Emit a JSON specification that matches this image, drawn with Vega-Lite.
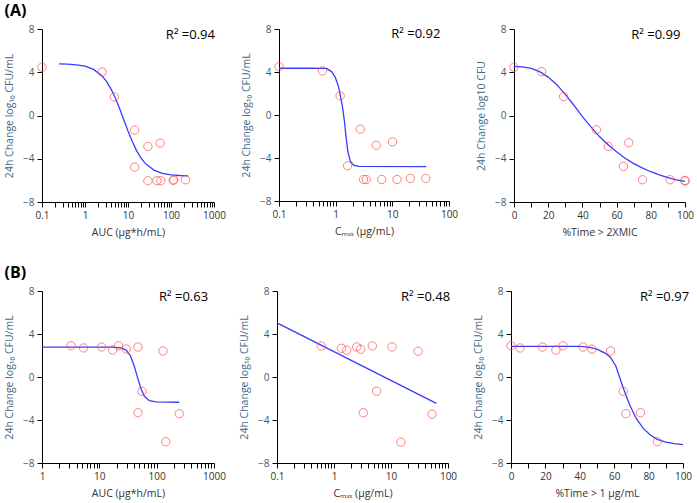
{
  "$schema": "https://vega.github.io/schema/vega-lite/v6.json",
  "padding": {"left": 4, "top": 3, "right": 0, "bottom": 5},
  "config": {
    "font": "Open Sans",
    "view": {"stroke": null},
    "axis": {"grid": false, "domainColor": "#000", "tickColor": "#000", "tickSize": 5, "labelPadding": 3, "labelFontSize": 10, "titleFontSize": 10.5, "titleFontWeight": "normal", "labelOverlap": false, "labelFlush": false, "labelBound": false},
    "axisY": {"titleColor": "#3f6a8a", "labelColor": "#3f5a70", "titlePadding": 8},
    "axisX": {"titleColor": "#333", "labelColor": "#333", "titlePadding": 7},
    "point": {"shape": "circle", "filled": false, "stroke": "#ff4a4a", "size": 70, "strokeWidth": 1},
    "line": {"stroke": "#3a3aff", "strokeWidth": 1.3},
    "text": {"fontSize": 13, "align": "left", "baseline": "middle", "color": "#000"}
  },
  "datasets": {
    "A1pts": [{"x":0.1,"y":4.46},{"x":2.5,"y":4.03},{"x":4.8,"y":1.72},{"x":14.3,"y":-1.35},{"x":14.3,"y":-4.77},{"x":29,"y":-2.86},{"x":29,"y":-6.03},{"x":47,"y":-6.03},{"x":56,"y":-2.55},{"x":58,"y":-6.03},{"x":112,"y":-6.0},{"x":117,"y":-5.94},{"x":217,"y":-5.94}],
    "A1fit": [{"x":0.25,"y":4.78},{"x":0.4,"y":4.75},{"x":0.63,"y":4.69},{"x":1,"y":4.56},{"x":1.58,"y":4.26},{"x":2.51,"y":3.65},{"x":3.16,"y":3.15},{"x":3.98,"y":2.49},{"x":5.01,"y":1.66},{"x":6.31,"y":0.69},{"x":7.94,"y":-0.37},{"x":10,"y":-1.43},{"x":12.6,"y":-2.41},{"x":15.8,"y":-3.25},{"x":20,"y":-3.92},{"x":25.1,"y":-4.43},{"x":39.8,"y":-5.05},{"x":63.1,"y":-5.35},{"x":100,"y":-5.49},{"x":158,"y":-5.55},{"x":251,"y":-5.58}],
    "A2pts": [{"x":0.1,"y":4.5},{"x":0.585,"y":4.1},{"x":1.2,"y":1.78},{"x":1.62,"y":-4.72},{"x":2.72,"y":-1.31},{"x":3.11,"y":-6.0},{"x":3.47,"y":-6.0},{"x":5.2,"y":-2.81},{"x":6.47,"y":-6.0},{"x":10.1,"y":-2.5},{"x":12.1,"y":-6.0},{"x":20.8,"y":-5.9},{"x":38.9,"y":-5.9}],
    "A2fit": [{"x":0.1,"y":4.35},{"x":0.316,"y":4.35},{"x":0.69,"y":4.33},{"x":0.746,"y":4.22},{"x":0.85,"y":4.03},{"x":0.98,"y":3.53},{"x":1.13,"y":2.6},{"x":1.3,"y":0.97},{"x":1.43,"y":-0.6},{"x":1.51,"y":-1.85},{"x":1.64,"y":-3.4},{"x":1.81,"y":-4.3},{"x":2.07,"y":-4.66},{"x":2.54,"y":-4.78},{"x":39.8,"y":-4.8}],
    "A3pts": [{"x":0,"y":4.46},{"x":16.1,"y":4.06},{"x":29,"y":1.75},{"x":48.2,"y":-1.32},{"x":55.1,"y":-2.86},{"x":64,"y":-4.71},{"x":67.1,"y":-2.52},{"x":75.2,"y":-5.94},{"x":91.3,"y":-5.94},{"x":100,"y":-6.0},{"x":100,"y":-6.06}],
    "A3fit": [{"x":0,"y":4.55},{"x":5,"y":4.5},{"x":10,"y":4.35},{"x":15,"y":4.05},{"x":20,"y":3.55},{"x":25,"y":2.85},{"x":30,"y":1.95},{"x":35,"y":0.95},{"x":40,"y":-0.1},{"x":45,"y":-1.05},{"x":50,"y":-1.95},{"x":55,"y":-2.7},{"x":60,"y":-3.35},{"x":65,"y":-3.95},{"x":70,"y":-4.45},{"x":75,"y":-4.85},{"x":80,"y":-5.2},{"x":85,"y":-5.5},{"x":90,"y":-5.75},{"x":95,"y":-5.95},{"x":100,"y":-6.1}],
    "B1pts": [{"x":3.2,"y":2.91},{"x":5.3,"y":2.7},{"x":11,"y":2.79},{"x":17.1,"y":2.51},{"x":21.7,"y":2.91},{"x":29.6,"y":2.6},{"x":47.2,"y":2.79},{"x":47.2,"y":-3.32},{"x":55.5,"y":-1.33},{"x":129,"y":2.42},{"x":144,"y":-6.02},{"x":248,"y":-3.41}],
    "B1fit": [{"x":1,"y":2.78},{"x":10,"y":2.78},{"x":17.1,"y":2.77},{"x":23.9,"y":2.7},{"x":29.2,"y":2.5},{"x":34.7,"y":2.0},{"x":40.7,"y":1.0},{"x":46.7,"y":-0.1},{"x":53.3,"y":-1.1},{"x":61,"y":-1.8},{"x":74.5,"y":-2.2},{"x":97,"y":-2.32},{"x":248,"y":-2.35}],
    "B2pts": [{"x":0.596,"y":2.89},{"x":1.35,"y":2.67},{"x":1.67,"y":2.49},{"x":2.5,"y":2.8},{"x":2.94,"y":2.58},{"x":3.27,"y":-3.33},{"x":4.7,"y":2.89},{"x":5.59,"y":-1.32},{"x":10.4,"y":2.8},{"x":14.9,"y":-6.06},{"x":29.9,"y":2.4},{"x":52.5,"y":-3.46}],
    "B2fit": [{"x":0.1,"y":5.03},{"x":62.5,"y":-2.46}],
    "B3pts": [{"x":0,"y":2.91},{"x":5.2,"y":2.7},{"x":18.3,"y":2.79},{"x":26.1,"y":2.51},{"x":30.3,"y":2.91},{"x":41.9,"y":2.79},{"x":47.1,"y":2.6},{"x":57.9,"y":2.42},{"x":65.3,"y":-1.33},{"x":66.8,"y":-3.41},{"x":75.3,"y":-3.32},{"x":85.1,"y":-6.02}],
    "B3fit": [{"x":0,"y":2.85},{"x":40,"y":2.85},{"x":45,"y":2.78},{"x":50,"y":2.6},{"x":55,"y":2.2},{"x":58,"y":1.8},{"x":61,"y":1.0},{"x":65,"y":-0.9},{"x":69,"y":-2.6},{"x":73,"y":-3.9},{"x":77,"y":-4.8},{"x":81,"y":-5.4},{"x":85,"y":-5.8},{"x":90,"y":-6.05},{"x":95,"y":-6.2},{"x":100,"y":-6.3}],
    "labels": [{"panel":"A1","label":"R² =0.94"},{"panel":"A2","label":"R² =0.92"},{"panel":"A3","label":"R² =0.99"},{"panel":"B1","label":"R² =0.63"},{"panel":"B2","label":"R² =0.48"},{"panel":"B3","label":"R² =0.97"}]
  },
  "spacing": 27,
  "vconcat": [
    {
      "hconcat": [
        {
          "width": 172, "height": 173,
          "title": {"text": "(A)", "anchor": "start", "frame": "bounds", "fontSize": 16, "fontWeight": "bold", "offset": 5, "color": "#000"},
          "layer": [
            {
              "encoding": {
                "x": {"field": "x", "type": "quantitative", "scale": {"type": "log", "domain": [0.1, 1000], "nice": false},
                      "axis": {"title": "AUC (µg*h/mL)", "format": "~g", "labelOverlap": false, "values": [0.1,0.2,0.3,0.4,0.5,0.6,0.7,0.8,0.9,1,2,3,4,5,6,7,8,9,10,20,30,40,50,60,70,80,90,100,200,300,400,500,600,700,800,900,1000],
                               "labelExpr": "abs(log(datum.value)/LN10 - round(log(datum.value)/LN10)) < 0.001 ? datum.label : ''"}},
                "y": {"field": "y", "type": "quantitative", "scale": {"domain": [-8, 8], "nice": false},
                      "axis": {"title": "24h Change log₁₀ CFU/mL", "labelOverlap": false, "values": [-8,-6,-4,-2,0,2,4,6,8], "labelExpr": "datum.value % 4 == 0 ? datum.label : ''"}}
              },
              "layer": [
                {"data": {"name": "A1fit"}, "mark": "line"},
                {"data": {"name": "A1pts"}, "mark": "point"}
              ]
            },
            {"data": {"name": "labels"}, "transform": [{"filter": "datum.panel == 'A1'"}], "mark": "text",
             "encoding": {"x": {"datum": 76, "type": "quantitative"}, "y": {"datum": 7.45, "type": "quantitative"}, "text": {"field": "label", "type": "nominal"}}}
          ]
        },
        {
          "width": 170, "height": 172,
          "layer": [
            {
              "encoding": {
                "x": {"field": "x", "type": "quantitative", "scale": {"type": "log", "domain": [0.1, 100], "nice": false},
                      "axis": {"title": "Cₘₐₓ (µg/mL)", "format": "~g", "labelOverlap": false, "values": [0.1,0.2,0.3,0.4,0.5,0.6,0.7,0.8,0.9,1,2,3,4,5,6,7,8,9,10,20,30,40,50,60,70,80,90,100],
                               "labelExpr": "abs(log(datum.value)/LN10 - round(log(datum.value)/LN10)) < 0.001 ? datum.label : ''"}},
                "y": {"field": "y", "type": "quantitative", "scale": {"domain": [-8, 8], "nice": false},
                      "axis": {"title": "24h Change log₁₀ CFU/mL", "labelOverlap": false, "values": [-8,-6,-4,-2,0,2,4,6,8], "labelExpr": "datum.value % 4 == 0 ? datum.label : ''"}}
              },
              "layer": [
                {"data": {"name": "A2fit"}, "mark": "line"},
                {"data": {"name": "A2pts"}, "mark": "point"}
              ]
            },
            {"data": {"name": "labels"}, "transform": [{"filter": "datum.panel == 'A2'"}], "mark": "text",
             "encoding": {"x": {"datum": 9.6, "type": "quantitative"}, "y": {"datum": 7.5, "type": "quantitative"}, "text": {"field": "label", "type": "nominal"}}}
          ]
        },
        {
          "width": 171, "height": 173,
          "layer": [
            {
              "encoding": {
                "x": {"field": "x", "type": "quantitative", "scale": {"domain": [0, 100], "nice": false},
                      "axis": {"title": "%Time > 2XMIC", "labelOverlap": false, "values": [0,10,20,30,40,50,60,70,80,90,100], "labelExpr": "datum.value % 20 == 0 ? datum.label : ''"}},
                "y": {"field": "y", "type": "quantitative", "scale": {"domain": [-8, 8], "nice": false},
                      "axis": {"title": "24h Change log10 CFU", "labelOverlap": false, "values": [-8,-6,-4,-2,0,2,4,6,8], "labelExpr": "datum.value % 4 == 0 ? datum.label : ''"}}
              },
              "layer": [
                {"data": {"name": "A3fit"}, "mark": "line"},
                {"data": {"name": "A3pts"}, "mark": "point"}
              ]
            },
            {"data": {"name": "labels"}, "transform": [{"filter": "datum.panel == 'A3'"}], "mark": "text",
             "encoding": {"x": {"datum": 68.6, "type": "quantitative", "axis": {"title": "%Time > 2XMIC", "labelOverlap": false, "values": [0,10,20,30,40,50,60,70,80,90,100], "labelExpr": "datum.value % 20 == 0 ? datum.label : ''"}}, "y": {"datum": 7.45, "type": "quantitative"}, "text": {"field": "label", "type": "nominal"}}}
          ]
        }
      ],
      "spacing": 65,
      "bounds": "flush"
    },
    {
      "hconcat": [
        {
          "width": 172, "height": 172,
          "title": {"text": "(B)", "anchor": "start", "frame": "bounds", "fontSize": 16, "fontWeight": "bold", "offset": 5, "color": "#000"},
          "layer": [
            {
              "encoding": {
                "x": {"field": "x", "type": "quantitative", "scale": {"type": "log", "domain": [1, 1000], "nice": false},
                      "axis": {"title": "AUC (µg*h/mL)", "format": "~g", "labelOverlap": false, "values": [1,2,3,4,5,6,7,8,9,10,20,30,40,50,60,70,80,90,100,200,300,400,500,600,700,800,900,1000],
                               "labelExpr": "abs(log(datum.value)/LN10 - round(log(datum.value)/LN10)) < 0.001 ? datum.label : ''"}},
                "y": {"field": "y", "type": "quantitative", "scale": {"domain": [-8, 8], "nice": false},
                      "axis": {"title": "24h Change log₁₀ CFU/mL", "labelOverlap": false, "values": [-8,-6,-4,-2,0,2,4,6,8], "labelExpr": "datum.value % 4 == 0 ? datum.label : ''"}}
              },
              "layer": [
                {"data": {"name": "B1fit"}, "mark": "line"},
                {"data": {"name": "B1pts"}, "mark": "point"}
              ]
            },
            {"data": {"name": "labels"}, "transform": [{"filter": "datum.panel == 'B1'"}], "mark": "text",
             "encoding": {"x": {"datum": 110, "type": "quantitative"}, "y": {"datum": 7.45, "type": "quantitative"}, "text": {"field": "label", "type": "nominal"}}}
          ]
        },
        {
          "width": 171, "height": 172,
          "layer": [
            {
              "encoding": {
                "x": {"field": "x", "type": "quantitative", "scale": {"type": "log", "domain": [0.1, 100], "nice": false},
                      "axis": {"title": "Cₘₐₓ (µg/mL)", "format": "~g", "labelOverlap": false, "values": [0.1,0.2,0.3,0.4,0.5,0.6,0.7,0.8,0.9,1,2,3,4,5,6,7,8,9,10,20,30,40,50,60,70,80,90,100],
                               "labelExpr": "abs(log(datum.value)/LN10 - round(log(datum.value)/LN10)) < 0.001 ? datum.label : ''"}},
                "y": {"field": "y", "type": "quantitative", "scale": {"domain": [-8, 8], "nice": false},
                      "axis": {"title": "24h Change log₁₀ CFU/mL", "labelOverlap": false, "values": [-8,-6,-4,-2,0,2,4,6,8], "labelExpr": "datum.value % 4 == 0 ? datum.label : ''"}}
              },
              "layer": [
                {"data": {"name": "B2fit"}, "mark": "line"},
                {"data": {"name": "B2pts"}, "mark": "point"}
              ]
            },
            {"data": {"name": "labels"}, "transform": [{"filter": "datum.panel == 'B2'"}], "mark": "text",
             "encoding": {"x": {"datum": 15, "type": "quantitative"}, "y": {"datum": 7.45, "type": "quantitative"}, "text": {"field": "label", "type": "nominal"}}}
          ]
        },
        {
          "width": 172, "height": 172,
          "layer": [
            {
              "encoding": {
                "x": {"field": "x", "type": "quantitative", "scale": {"domain": [0, 100], "nice": false},
                      "axis": {"title": "%Time > 1 µg/mL", "labelOverlap": false, "values": [0,10,20,30,40,50,60,70,80,90,100], "labelExpr": "datum.value % 20 == 0 ? datum.label : ''"}},
                "y": {"field": "y", "type": "quantitative", "scale": {"domain": [-8, 8], "nice": false},
                      "axis": {"title": "24h Change log₁₀ CFU/mL", "labelOverlap": false, "values": [-8,-6,-4,-2,0,2,4,6,8], "labelExpr": "datum.value % 4 == 0 ? datum.label : ''"}}
              },
              "layer": [
                {"data": {"name": "B3fit"}, "mark": "line"},
                {"data": {"name": "B3pts"}, "mark": "point"}
              ]
            },
            {"data": {"name": "labels"}, "transform": [{"filter": "datum.panel == 'B3'"}], "mark": "text",
             "encoding": {"x": {"datum": 75, "type": "quantitative", "axis": {"title": "%Time > 1 µg/mL", "labelOverlap": false, "values": [0,10,20,30,40,50,60,70,80,90,100], "labelExpr": "datum.value % 20 == 0 ? datum.label : ''"}}, "y": {"datum": 7.45, "type": "quantitative"}, "text": {"field": "label", "type": "nominal"}}}
          ]
        }
      ],
      "spacing": 63,
      "bounds": "flush"
    }
  ]
}
